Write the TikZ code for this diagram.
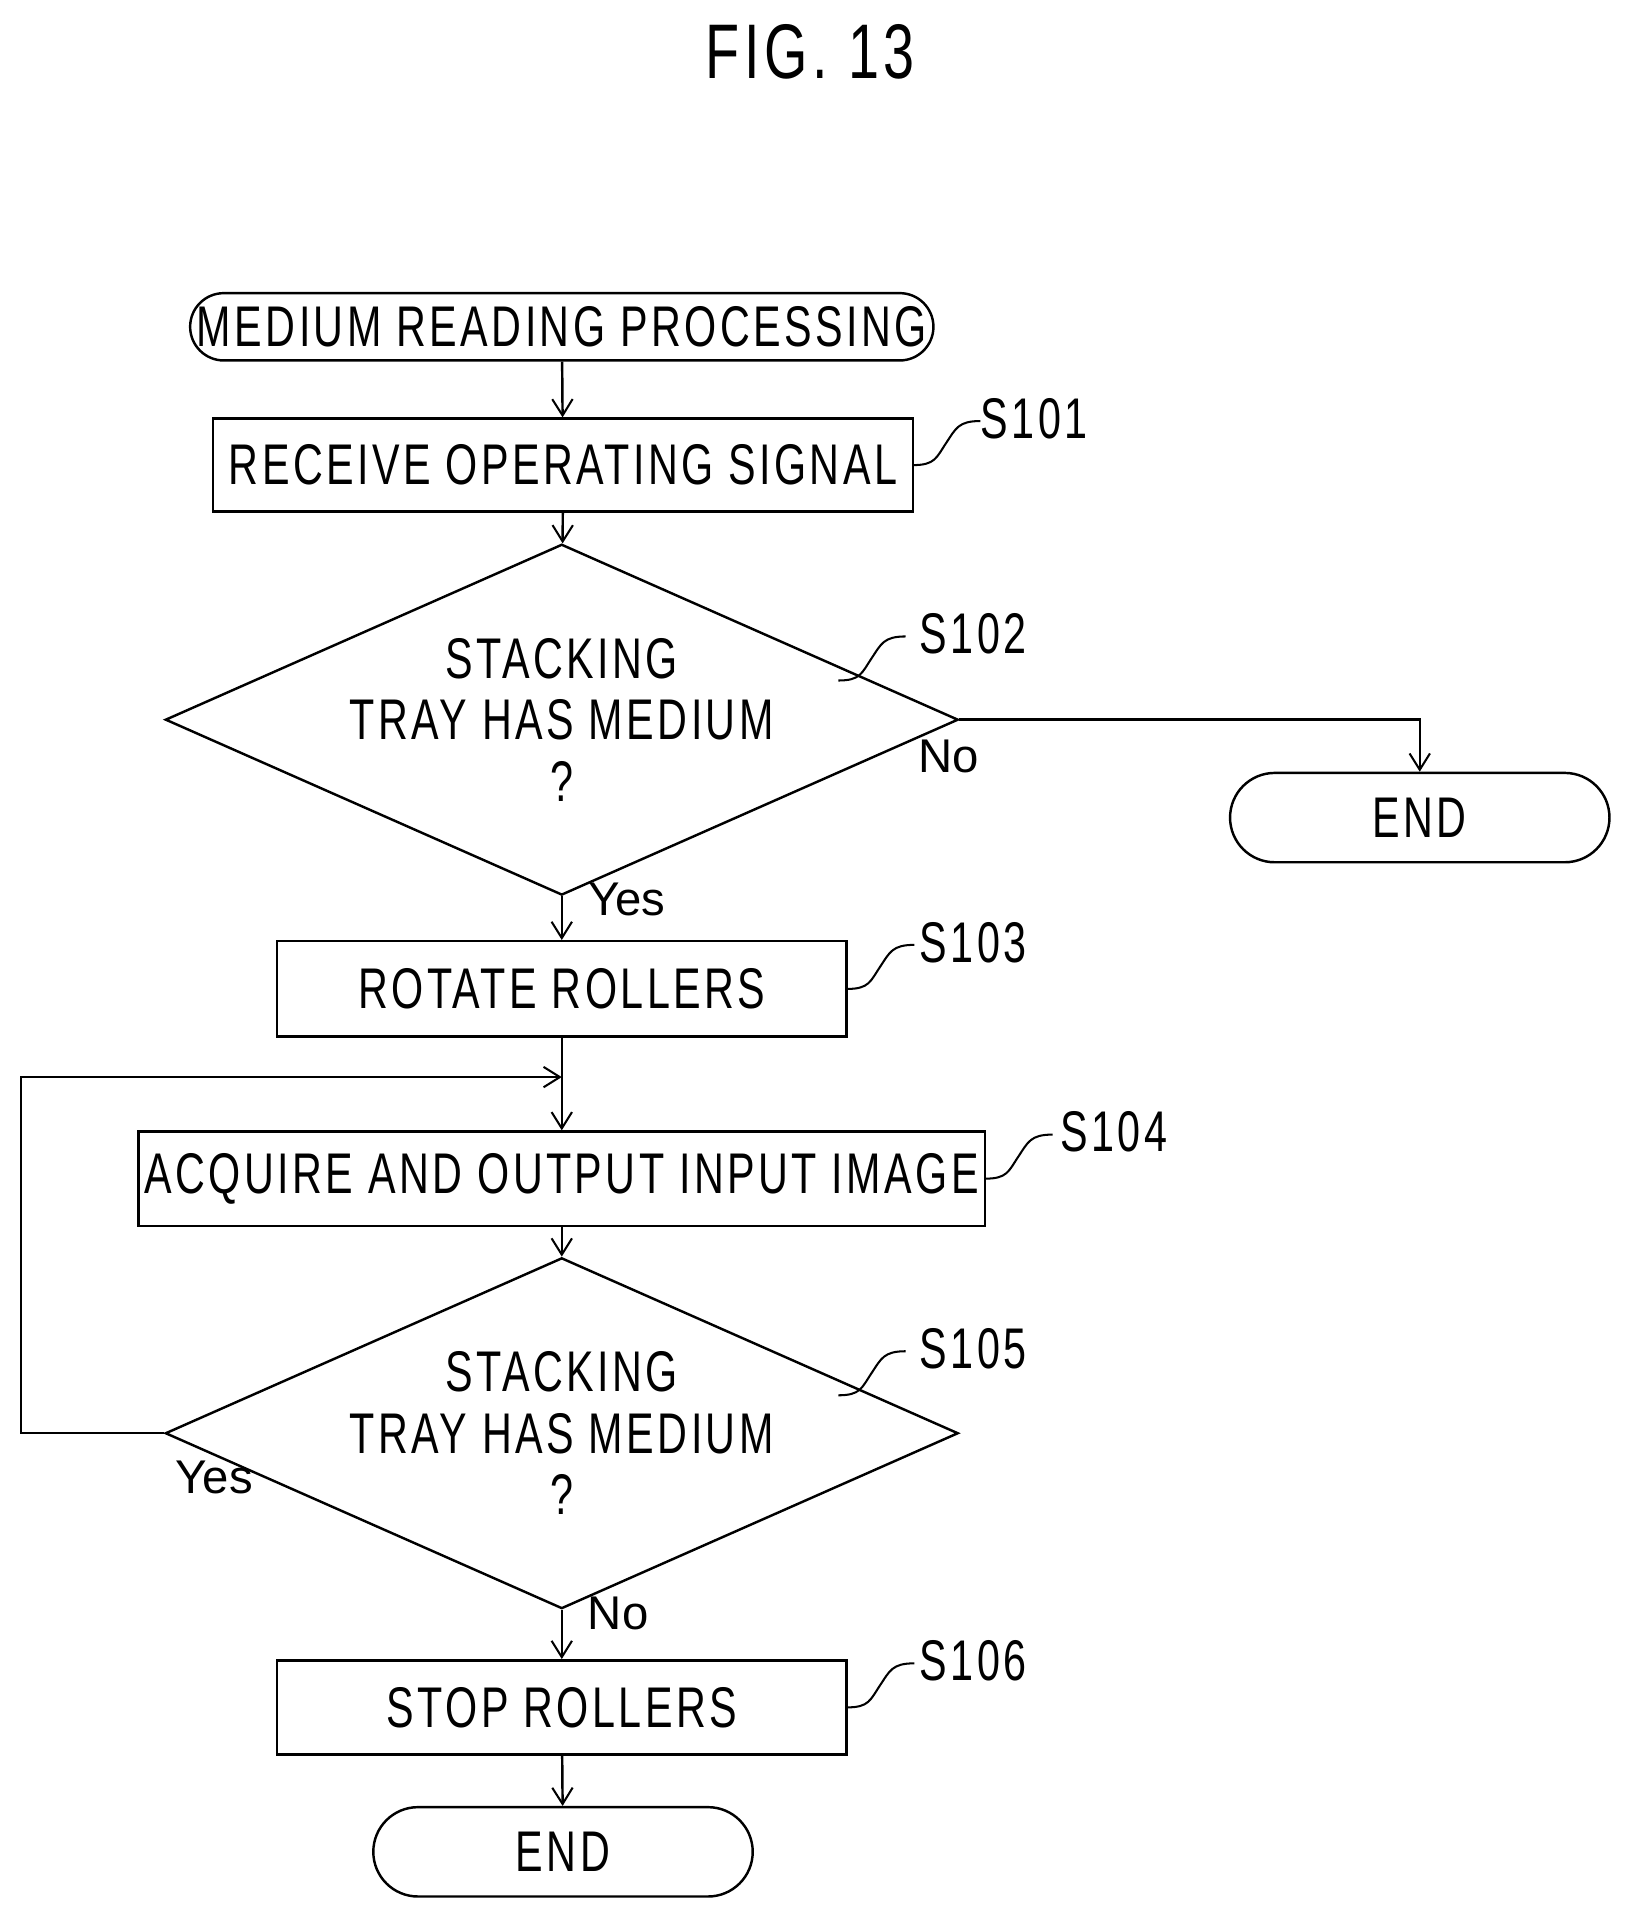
\documentclass[tikz,border=0pt]{standalone}
\usepackage{fontspec}
\setmainfont[FakeStretch=0.72,LetterSpace=6]{Liberation Sans}
\newfontfamily\plainsans{Liberation Sans}
\usetikzlibrary{shapes.geometric,shapes.misc,arrows.meta}
\begin{document}
\begin{tikzpicture}[x=0.03cm,y=-0.03cm,line width=0.06cm,
  every node/.style={font=\fontsize{40}{46}\selectfont},
  box/.style={draw,rectangle,inner sep=0,anchor=center},
  term/.style={draw,rounded rectangle,inner sep=0,anchor=center},
  dia/.style={draw,diamond,aspect=2.26,inner sep=0,anchor=center,align=center,font=\fontsize{40}{43}\selectfont},
  arr/.style={-{Straight Barb[length=0.4cm,width=0.5cm,line width=0.05cm]}},
  lab/.style={font=\plainsans\fontsize{33}{36}\selectfont},
  sq/.style={line width=0.05cm}]
\useasboundingbox (0,0) rectangle (1330,1563);
\node at (662,42) {\fontsize{54}{60}\selectfont FIG. 13};
\node[term,minimum width=602*0.03cm,minimum height=55*0.03cm] (st) at (459,267) {MEDIUM READING PROCESSING};
\node[box,minimum width=572*0.03cm,minimum height=76*0.03cm] (s1) at (460,380) {RECEIVE OPERATING SIGNAL};
\node[dia,minimum width=578*0.03cm,minimum height=256*0.03cm] (d2) at (459,588) {STACKING\\TRAY HAS MEDIUM\\?};
\node[term,minimum width=310*0.03cm,minimum height=73*0.03cm] (e1) at (1160,668) {END};
\node[box,minimum width=465*0.03cm,minimum height=78*0.03cm] (s3) at (459,808) {ROTATE ROLLERS};
\node[box,minimum width=692*0.03cm,minimum height=77*0.03cm] (s4) at (459,963) {ACQUIRE AND OUTPUT INPUT IMAGE};
\node[dia,minimum width=578*0.03cm,minimum height=257*0.03cm] (d5) at (459,1171) {STACKING\\TRAY HAS MEDIUM\\?};
\node[box,minimum width=465*0.03cm,minimum height=77*0.03cm] (s6) at (459,1395) {STOP ROLLERS};
\node[term,minimum width=310*0.03cm,minimum height=73*0.03cm] (e2) at (460,1513) {END};
\draw[arr] (st) -- (s1);
\draw[arr] (s1) -- (d2);
\draw[arr] (d2.east) -| (e1.north);
\draw[arr] (d2) -- (s3);
\coordinate (lp) at (459,880);
\draw[arr] (d5.west) -- (17,1171) -- (17,880) -- (lp);
\draw[arr] (s3.south) -- (s4.north);
\draw[arr] (s4) -- (d5);
\draw[arr] (d5) -- (s6);
\draw[arr] (s6) -- (e2);
\node[lab] at (775,618) {No};
\node[lab] at (512,735) {Yes};
\node[lab] at (175,1207) {Yes};
\node[lab] at (505,1318) {No};
\foreach \a/\b/\l/\n in {746/380/845/S101, 685/556/795/S102, 692/808/795/S103, 805/963/910/S104, 685/1140/795/S105, 692/1395/795/S106}{
  \node (\n) at (\l,{\b-38}) {\n};
  \draw[sq] (\a,\b) .. controls +(18,0) and +(-8,12) .. +(27,-18) .. controls +(8,-12) and +(-18,0) .. +(55,-36);
}
\end{tikzpicture}
\end{document}
